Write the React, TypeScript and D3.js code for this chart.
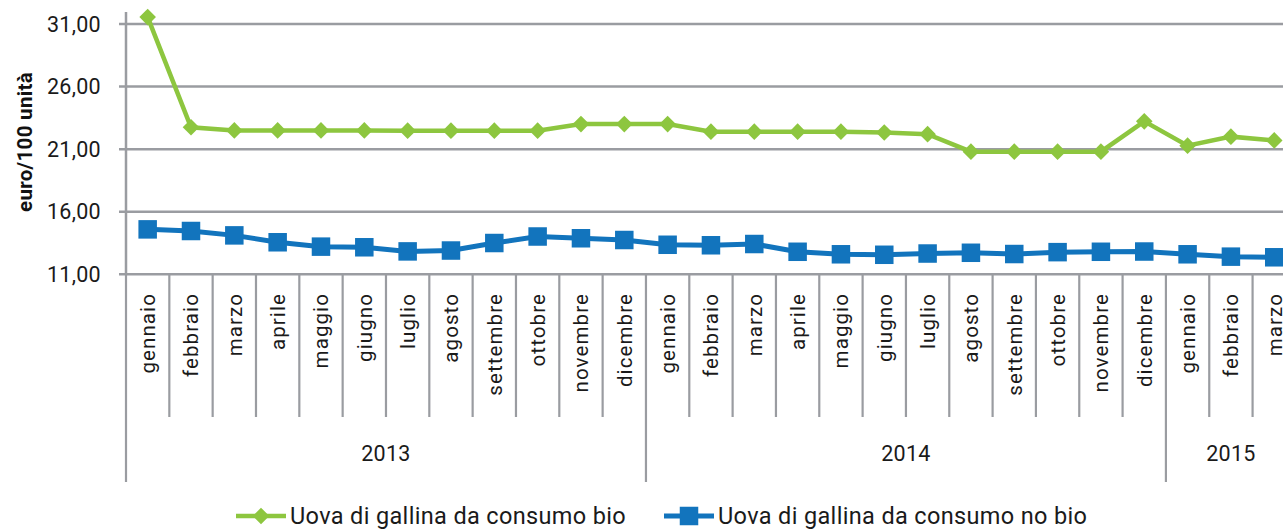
import React from "react";
import * as d3 from "d3";

const months = ["gennaio","febbraio","marzo","aprile","maggio","giugno","luglio","agosto","settembre","ottobre","novembre","dicembre"];
const years = ["2013", "2014", "2015"];
const monthsPerYear = [12, 12, 3];
const categories: { month: string; year: string }[] = [];
years.forEach((y, i) => {
  for (let m = 0; m < monthsPerYear[i]; m++) categories.push({ month: months[m], year: y });
});

const bio = [31.55, 22.75, 22.5, 22.5, 22.5, 22.5, 22.48, 22.48, 22.48, 22.48, 23.0, 23.0,
  23.0, 22.4, 22.4, 22.4, 22.4, 22.33, 22.2, 20.8, 20.8, 20.8, 20.8, 23.22,
  21.28, 22.0, 21.7];
const noBio = [14.59, 14.46, 14.11, 13.56, 13.21, 13.16, 12.83, 12.9, 13.5, 14.02, 13.88, 13.74,
  13.36, 13.32, 13.42, 12.8, 12.6, 12.56, 12.66, 12.72, 12.62, 12.77, 12.8, 12.82,
  12.6, 12.41, 12.36];
const yTicks = [11, 16, 21, 26, 31];
const seriesNames = ["Uova di gallina da consumo bio", "Uova di gallina da consumo no bio"];

const GREEN = "#8dc63f";
const BLUE = "#1274bd";
const GRID = "#9a9ca1";
const FONT = "Roboto, 'Noto Sans', sans-serif";

export default function App() {
  const x0 = 126;
  const step = 43.33;
  const x = d3.scaleBand<number>().domain(d3.range(categories.length)).range([x0, x0 + step * categories.length]).padding(0);
  const y = d3.scaleLinear().domain([11, 31]).range([274.3, 24]);
  const cx = (i: number) => (x(i) as number) + x.bandwidth() / 2;
  const line = d3.line<number>().x((_, i) => cx(i)).y((d) => y(d));
  const fmt = (v: number) => v.toFixed(2).replace(".", ",");

  const yearBounds: { year: string; start: number; end: number }[] = [];
  let idx = 0;
  years.forEach((yr, i) => {
    yearBounds.push({ year: yr, start: idx, end: idx + monthsPerYear[i] });
    idx += monthsPerYear[i];
  });

  const diamond = d3.symbol().type(d3.symbolDiamond2).size(175)();
  const sq = 18.5;

  return (
    <svg width={1283} height={530} style={{ position: "absolute", left: 0, top: 0, background: "#fff" }}>
      {yTicks.map((t) => (
        <g key={t}>
          <line x1={119} x2={1283} y1={y(t)} y2={y(t)} stroke={GRID} strokeWidth={2.5} />
          <text x={101} y={y(t)} dy="0.35em" textAnchor="end" fontFamily={FONT} fontSize={21.5} letterSpacing={0.3} fill="#1a1a1a">{fmt(t)}</text>
        </g>
      ))}
      <line x1={x0} x2={x0} y1={12} y2={y(11)} stroke={GRID} strokeWidth={2.5} />
      <text transform={`translate(32,142) rotate(-90)`} textAnchor="middle" fontFamily={FONT} fontWeight="bold" fontSize={20.5} letterSpacing={0.3} fill="#111">euro/100 unità</text>

      {d3.range(categories.length + 1).map((i) => {
        const isYear = yearBounds.some((b) => b.start === i) || i === categories.length;
        const xx = x0 + step * i;
        return <line key={i} x1={xx} x2={xx} y1={y(11)} y2={isYear ? 482 : 417} stroke={GRID} strokeWidth={2.2} />;
      })}
      {categories.map((c, i) => (
        <text key={i} transform={`translate(${cx(i) + 7.5},293) rotate(-90)`} textAnchor="end" fontFamily={FONT} fontSize={20.5} letterSpacing={1.1} fill="#1a1a1a">{c.month}</text>
      ))}
      {yearBounds.map((b) => (
        <text key={b.year} x={(x0 + step * b.start + x0 + step * b.end) / 2} y={453} dy="0.35em" textAnchor="middle" fontFamily={FONT} fontSize={21.5} letterSpacing={0.3} fill="#1a1a1a">{b.year}</text>
      ))}

      <path d={line(noBio) || ""} fill="none" stroke={BLUE} strokeWidth={5} />
      {noBio.map((v, i) => (
        <rect key={i} x={cx(i) - sq / 2} y={y(v) - sq / 2} width={sq} height={sq} fill={BLUE} />
      ))}
      <path d={line(bio) || ""} fill="none" stroke={GREEN} strokeWidth={4.5} />
      {bio.map((v, i) => (
        <path key={i} d={diamond || ""} transform={`translate(${cx(i)},${y(v)})`} fill={GREEN} />
      ))}

      <g transform="translate(236,516)">
        <line x1={0} x2={50} y1={0} y2={0} stroke={GREEN} strokeWidth={4.5} />
        <path d={diamond || ""} transform="translate(25,0)" fill={GREEN} />
        <text x={54} y={0} dy="0.35em" fontFamily={FONT} fontSize={23.5} letterSpacing={0.35} fill="#1a1a1a">{seriesNames[0]}</text>
      </g>
      <g transform="translate(664,516)">
        <line x1={0} x2={50} y1={0} y2={0} stroke={BLUE} strokeWidth={5} />
        <rect x={25 - sq / 2} y={-sq / 2} width={sq} height={sq} fill={BLUE} />
        <text x={54} y={0} dy="0.35em" fontFamily={FONT} fontSize={23.5} letterSpacing={0.35} fill="#1a1a1a">{seriesNames[1]}</text>
      </g>
    </svg>
  );
}
